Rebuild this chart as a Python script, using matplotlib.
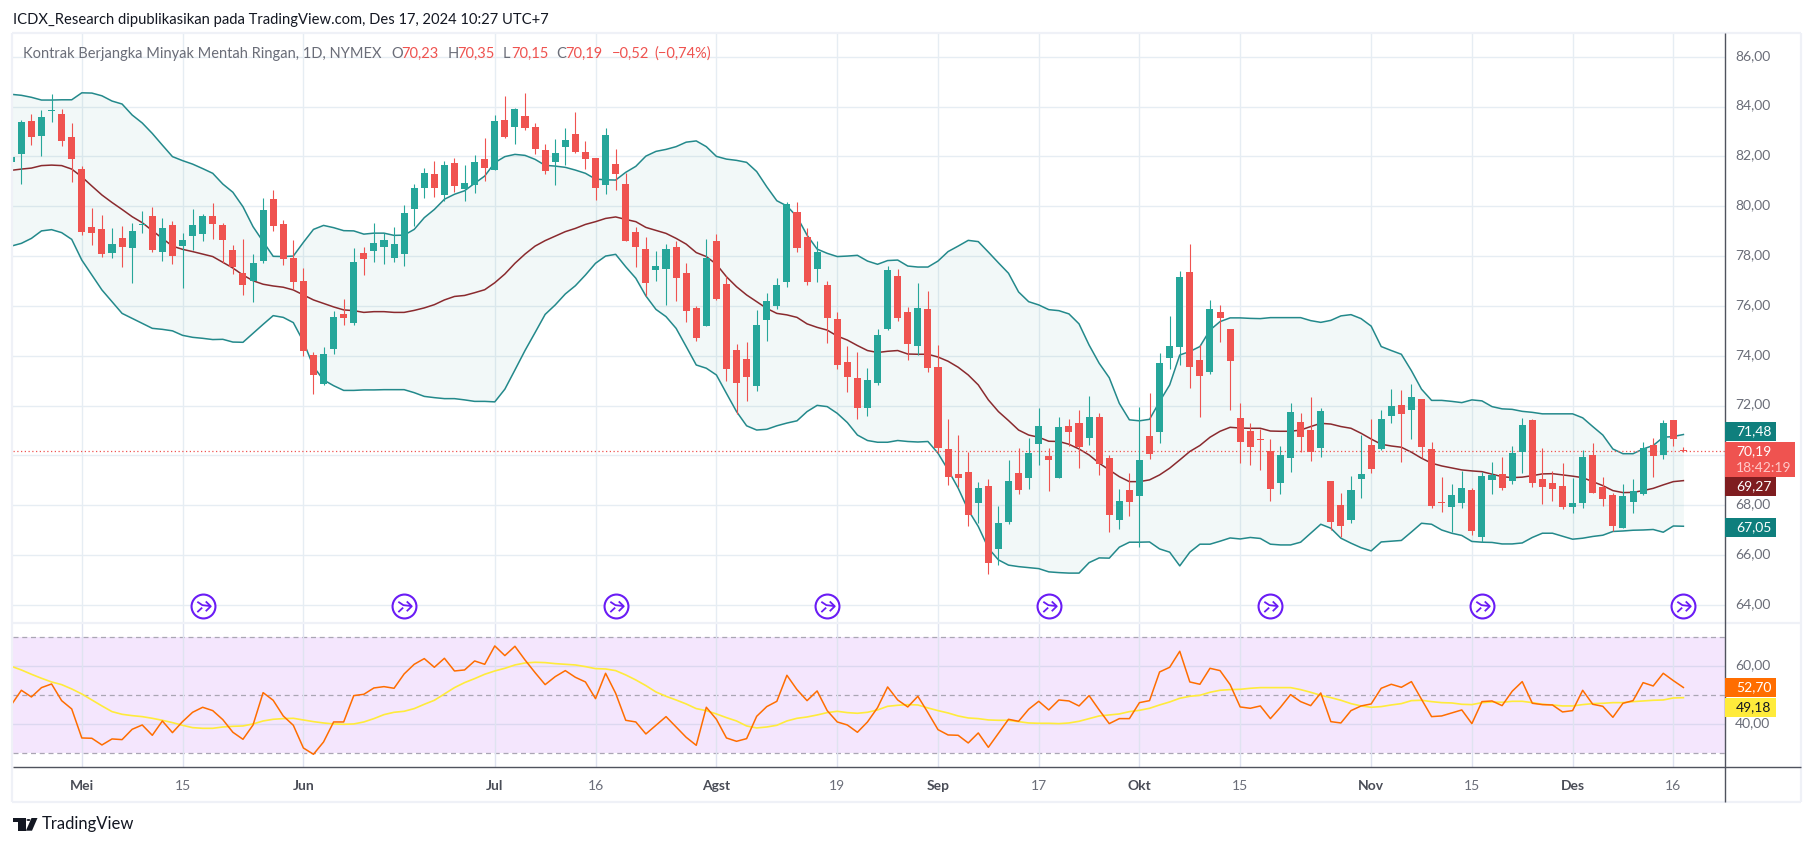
import numpy as np
import matplotlib
matplotlib.use('Agg')
from matplotlib import pyplot as plt
from matplotlib.path import Path
from matplotlib.patches import Rectangle, Polygon
from matplotlib.transforms import ScaledTranslation

W, H = 1814, 846

# Harga harian (batang pertama terpotong di tepi kiri)
opens = [81.79, 82.10, 83.42, 82.83, 83.82, 83.70, 82.78, 81.49, 79.17, 79.09, 78.12, 78.72, 78.34, 79.25, 79.61, 78.18, 79.25, 78.42, 78.82, 78.88,
         79.61, 79.25, 78.24, 77.31, 77.00, 77.80, 80.29, 79.29, 77.91, 77.00, 74.03, 72.87, 74.27, 75.68, 75.32, 78.12, 78.22, 78.38, 77.93, 78.08,
         79.89, 80.73, 81.29, 80.45, 81.73, 80.69, 80.85, 81.89, 81.45, 83.46, 83.18, 83.62, 83.18, 82.25, 81.77, 82.37, 82.90, 82.17, 81.93, 80.85,
         81.69, 80.89, 78.97, 78.28, 77.44, 77.48, 78.36, 77.32, 75.92, 75.20, 78.60, 76.88, 74.23, 73.87, 72.79, 75.44, 76.00, 76.96, 79.77, 78.76,
         77.48, 76.84, 75.48, 73.75, 73.11, 71.91, 72.91, 75.07, 77.20, 75.76, 74.39, 75.88, 73.55, 70.26, 69.26, 69.34, 68.10, 68.78, 66.25, 67.33,
         69.30, 69.10, 70.46, 69.98, 69.10, 71.18, 71.30, 70.70, 71.55, 69.90, 67.41, 68.62, 68.38, 70.78, 70.94, 73.91, 74.35, 77.36, 73.83, 73.35,
         75.76, 75.07, 71.51, 70.98, 70.66, 70.18, 68.90, 69.90, 71.34, 71.02, 70.30, 68.98, 68.02, 67.41, 69.06, 70.42, 70.26, 71.59, 72.03, 71.83,
         72.25, 70.26, 68.14, 67.94, 68.10, 68.62, 66.73, 69.02, 69.26, 68.98, 70.14, 71.43, 69.06, 68.90, 68.78, 67.94, 68.10, 70.02, 68.74, 68.42,
         67.09, 68.14, 68.46, 70.42, 70.02, 71.43, 70.23]
closes = [81.96, 83.37, 82.79, 83.58, 83.85, 82.63, 81.91, 78.98, 78.94, 78.08, 78.48, 78.38, 79.01, 79.27, 78.24, 79.11, 78.02, 78.64, 79.25, 79.61,
          79.30, 78.64, 77.57, 76.84, 77.71, 79.85, 79.21, 77.88, 76.97, 74.19, 73.23, 74.07, 75.56, 75.52, 77.76, 77.88, 78.52, 78.64, 78.48, 79.71,
          80.73, 81.33, 80.73, 81.65, 80.81, 80.93, 81.77, 81.53, 83.42, 82.78, 83.90, 83.14, 82.29, 81.41, 82.13, 82.66, 82.17, 81.89, 80.73, 82.86,
          81.29, 78.60, 78.36, 76.92, 77.60, 78.28, 77.12, 75.80, 74.71, 77.93, 76.26, 73.47, 72.91, 73.15, 75.23, 76.20, 76.84, 80.09, 78.32, 76.96,
          78.16, 75.52, 73.63, 73.15, 71.91, 73.03, 74.83, 77.44, 75.52, 74.47, 75.92, 73.51, 70.30, 69.14, 69.10, 67.61, 68.70, 65.69, 67.29, 68.98,
          68.62, 70.10, 71.18, 69.82, 71.14, 70.94, 70.34, 71.55, 69.67, 67.61, 68.18, 68.14, 69.82, 70.06, 73.71, 74.39, 77.16, 73.55, 73.19, 75.88,
          75.52, 73.79, 70.54, 70.34, 70.62, 68.66, 70.02, 71.75, 70.74, 70.14, 71.79, 67.33, 67.17, 68.62, 69.26, 69.46, 71.46, 71.99, 71.67, 72.35,
          70.34, 67.98, 68.11, 68.42, 68.70, 66.97, 69.18, 69.22, 68.70, 70.10, 71.22, 68.90, 68.74, 68.66, 67.94, 68.10, 69.94, 68.50, 68.26, 67.17,
          68.38, 68.58, 70.30, 69.98, 71.30, 70.66, 70.19]
highs = [81.99, 83.45, 83.72, 83.86, 84.50, 83.92, 83.32, 81.61, 79.91, 79.65, 79.11, 79.21, 79.31, 79.81, 79.95, 79.51, 79.41, 78.91, 79.87, 79.69,
         80.12, 79.31, 78.44, 78.68, 78.07, 80.32, 80.65, 79.45, 78.64, 77.51, 74.15, 74.35, 75.80, 76.28, 78.32, 78.35, 79.31, 78.91, 79.15, 80.05,
         80.89, 81.53, 81.81, 81.80, 81.93, 81.65, 82.05, 82.73, 83.66, 84.42, 83.94, 84.54, 83.34, 82.49, 82.70, 83.14, 83.78, 82.62, 81.93, 83.14,
         82.29, 81.32, 79.17, 78.76, 78.20, 78.48, 78.59, 77.72, 76.00, 78.68, 78.88, 77.20, 74.47, 74.55, 75.84, 76.51, 77.11, 80.17, 80.17, 79.13,
         78.60, 77.00, 75.76, 74.39, 74.15, 73.51, 75.07, 77.60, 77.48, 75.96, 76.92, 76.60, 74.43, 71.46, 70.82, 70.14, 68.94, 69.06, 67.97, 69.82,
         70.30, 70.70, 71.91, 70.30, 71.55, 71.46, 71.83, 72.39, 71.71, 70.02, 68.66, 69.30, 71.95, 72.51, 74.11, 75.60, 77.40, 78.48, 74.43, 76.24,
         76.04, 75.07, 72.11, 71.30, 71.06, 70.66, 70.38, 72.11, 71.71, 72.35, 71.91, 68.98, 68.50, 69.18, 70.82, 71.46, 71.83, 72.67, 72.63, 72.87,
         72.27, 70.54, 69.14, 68.86, 69.38, 68.70, 69.34, 69.74, 69.94, 70.38, 71.51, 71.46, 70.30, 69.38, 69.70, 69.10, 70.22, 70.50, 69.14, 68.50,
         68.86, 69.06, 70.54, 70.70, 71.43, 71.43, 70.35]
lows = [81.76, 80.89, 82.45, 82.03, 83.38, 82.43, 80.98, 78.84, 78.44, 77.95, 77.93, 77.57, 76.93, 78.94, 78.18, 77.82, 77.68, 76.73, 78.24, 78.62,
        78.68, 77.71, 77.28, 76.44, 76.17, 77.73, 79.01, 77.64, 76.68, 74.00, 72.47, 72.83, 74.07, 75.23, 75.23, 77.24, 77.78, 77.68, 77.78, 77.60,
        79.21, 80.33, 80.36, 80.22, 80.56, 80.21, 80.54, 81.01, 81.44, 82.74, 82.49, 83.06, 82.09, 81.28, 80.85, 81.65, 82.13, 81.48, 80.25, 80.49,
        80.65, 78.60, 77.57, 76.39, 77.00, 76.04, 76.20, 75.36, 74.59, 75.20, 76.24, 72.99, 71.67, 72.19, 72.59, 74.59, 75.86, 76.75, 78.16, 76.84,
        76.96, 74.51, 73.47, 72.55, 71.46, 71.59, 72.83, 75.03, 75.40, 73.83, 74.03, 73.35, 70.09, 68.82, 68.75, 67.17, 67.29, 65.25, 65.61, 67.25,
        68.46, 68.66, 69.62, 68.58, 69.10, 70.38, 69.50, 70.42, 69.22, 66.93, 67.05, 67.57, 66.33, 69.86, 70.50, 73.47, 73.63, 72.71, 71.55, 73.27,
        74.55, 71.83, 69.70, 69.62, 69.42, 68.18, 68.46, 69.34, 70.14, 69.78, 69.94, 67.01, 66.73, 67.29, 68.30, 69.30, 70.22, 71.30, 69.74, 70.66,
        69.90, 67.90, 67.74, 66.93, 67.90, 66.81, 66.53, 68.46, 68.62, 68.86, 69.30, 68.74, 68.06, 68.18, 67.86, 67.70, 67.90, 68.50, 67.98, 66.97,
        67.09, 67.70, 68.42, 69.14, 69.86, 70.38, 70.15]

# Bollinger Bands
bb_upper = [84.49, 84.45, 84.37, 84.26, 84.26, 84.27, 84.27, 84.55, 84.54, 84.43, 84.22, 84.10, 83.66, 83.34, 82.92, 82.45, 81.99, 81.83, 81.69, 81.51,
            81.32, 80.89, 80.56, 79.98, 79.18, 78.58, 77.99, 77.98, 78.00, 78.55, 79.07, 79.23, 79.14, 79.02, 79.01, 78.88, 78.92, 78.92, 78.83, 78.84,
            79.07, 79.54, 79.87, 80.28, 80.48, 80.62, 80.92, 81.21, 81.75, 81.99, 82.08, 82.04, 81.88, 81.64, 81.61, 81.56, 81.45, 81.32, 81.09, 81.06,
            81.05, 81.36, 81.60, 82.01, 82.20, 82.28, 82.39, 82.57, 82.62, 82.39, 82.00, 81.89, 81.84, 81.76, 81.39, 80.78, 80.22, 80.01, 79.58, 78.84,
            78.28, 78.11, 77.98, 78.00, 78.03, 77.80, 77.67, 77.82, 77.84, 77.60, 77.56, 77.56, 77.80, 78.18, 78.40, 78.63, 78.58, 78.16, 77.73, 77.31,
            76.56, 76.17, 76.04, 75.85, 75.81, 75.68, 75.28, 74.43, 73.70, 73.12, 72.09, 71.43, 71.39, 71.45, 72.16, 72.83, 74.03, 74.17, 74.37, 75.03,
            75.37, 75.52, 75.52, 75.50, 75.49, 75.53, 75.53, 75.53, 75.53, 75.41, 75.34, 75.42, 75.60, 75.65, 75.49, 75.19, 74.37, 74.21, 74.06, 73.40,
            72.66, 72.21, 72.21, 72.17, 72.12, 72.23, 72.19, 71.96, 71.87, 71.85, 71.77, 71.73, 71.67, 71.67, 71.67, 71.67, 71.51, 71.16, 70.82, 70.26,
            70.07, 70.07, 70.26, 70.40, 70.73, 70.76, 70.84]
bb_lower = [78.40, 78.51, 78.71, 79.01, 79.06, 78.94, 78.67, 77.84, 77.24, 76.64, 76.17, 75.70, 75.50, 75.30, 75.10, 75.06, 75.00, 74.82, 74.74, 74.70,
            74.65, 74.66, 74.55, 74.54, 74.90, 75.26, 75.61, 75.54, 75.33, 74.57, 73.56, 73.03, 72.80, 72.61, 72.61, 72.63, 72.63, 72.64, 72.64, 72.64,
            72.52, 72.37, 72.32, 72.28, 72.28, 72.23, 72.17, 72.17, 72.15, 72.66, 73.43, 74.21, 74.93, 75.66, 76.04, 76.48, 76.81, 77.24, 77.71, 78.00,
            78.07, 77.57, 77.11, 76.40, 75.86, 75.57, 75.10, 74.37, 73.63, 73.50, 73.23, 72.49, 71.76, 71.19, 71.02, 71.05, 71.19, 71.30, 71.39, 71.76,
            72.01, 71.96, 71.69, 71.32, 70.82, 70.60, 70.53, 70.53, 70.60, 70.56, 70.54, 70.56, 70.09, 69.42, 68.69, 67.81, 67.15, 66.28, 65.81, 65.60,
            65.54, 65.50, 65.46, 65.33, 65.30, 65.28, 65.28, 65.70, 65.89, 65.88, 66.32, 66.52, 66.52, 66.53, 66.25, 66.12, 65.57, 66.12, 66.44, 66.44,
            66.56, 66.69, 66.65, 66.71, 66.67, 66.44, 66.41, 66.41, 66.52, 66.88, 67.24, 67.08, 66.68, 66.48, 66.30, 66.17, 66.53, 66.56, 66.59, 66.93,
            67.28, 67.24, 67.01, 66.88, 66.79, 66.55, 66.52, 66.51, 66.45, 66.45, 66.49, 66.71, 66.88, 66.88, 66.76, 66.64, 66.68, 66.75, 66.80, 66.95,
            66.97, 67.00, 67.01, 67.03, 66.92, 67.17, 67.16]
bb_basis = [81.44, 81.49, 81.53, 81.63, 81.65, 81.63, 81.49, 81.18, 80.81, 80.45, 80.15, 79.87, 79.58, 79.34, 79.02, 78.71, 78.40, 78.27, 78.18, 78.08,
            77.98, 77.75, 77.52, 77.24, 77.01, 76.87, 76.80, 76.75, 76.64, 76.44, 76.24, 76.10, 75.96, 75.84, 75.81, 75.74, 75.77, 75.77, 75.74, 75.74,
            75.82, 75.92, 76.05, 76.24, 76.38, 76.42, 76.53, 76.65, 76.93, 77.28, 77.71, 78.08, 78.40, 78.62, 78.80, 78.98, 79.11, 79.27, 79.38, 79.51,
            79.57, 79.47, 79.38, 79.15, 79.03, 78.91, 78.71, 78.48, 78.14, 77.98, 77.67, 77.17, 76.77, 76.44, 76.17, 75.90, 75.70, 75.64, 75.54, 75.28,
            75.14, 75.03, 74.79, 74.63, 74.41, 74.21, 74.13, 74.18, 74.21, 74.07, 74.06, 74.06, 73.95, 73.78, 73.54, 73.23, 72.83, 72.23, 71.76, 71.40,
            71.02, 70.82, 70.73, 70.57, 70.56, 70.45, 70.26, 70.02, 69.69, 69.42, 69.15, 68.95, 68.95, 69.02, 69.22, 69.49, 69.82, 70.16, 70.40, 70.73,
            70.97, 71.13, 71.10, 71.09, 71.09, 70.98, 70.97, 70.97, 71.02, 71.16, 71.29, 71.26, 71.16, 71.09, 70.89, 70.66, 70.45, 70.38, 70.33, 70.13,
            69.89, 69.69, 69.58, 69.50, 69.42, 69.38, 69.35, 69.25, 69.15, 69.11, 69.13, 69.19, 69.26, 69.27, 69.22, 69.17, 69.11, 68.95, 68.79, 68.59,
            68.51, 68.52, 68.59, 68.68, 68.82, 68.95, 68.99]

# RSI dan rata-ratanya
rsi = [46.67, 51.73, 49.43, 52.65, 53.91, 48.16, 45.29, 35.29, 35.18, 32.88, 34.95, 34.72, 38.28, 39.77, 36.21, 41.15, 37.13, 40.92, 44.14, 45.87,
       44.72, 41.61, 37.25, 34.83, 39.77, 50.92, 48.28, 42.88, 39.66, 31.84, 29.66, 33.91, 40.81, 40.81, 49.89, 50.35, 52.53, 52.99, 52.42, 57.36,
       60.69, 62.65, 59.66, 62.76, 58.39, 58.74, 61.84, 60.69, 67.01, 63.68, 66.90, 62.19, 57.82, 53.68, 56.44, 58.51, 56.21, 54.60, 48.85, 57.59,
       50.69, 41.38, 40.81, 36.67, 39.66, 42.65, 39.08, 35.52, 32.76, 45.87, 41.73, 35.29, 34.14, 35.06, 42.76, 46.10, 47.93, 56.90, 51.96, 48.16,
       51.50, 44.72, 40.81, 39.77, 37.25, 40.81, 45.75, 52.88, 48.39, 45.98, 49.66, 44.03, 38.16, 36.33, 36.21, 33.57, 37.02, 32.07, 36.90, 41.73,
       41.04, 45.18, 47.93, 44.95, 48.39, 48.05, 46.33, 49.89, 44.95, 40.23, 41.96, 41.96, 47.47, 48.16, 58.05, 59.66, 65.18, 54.60, 53.80, 59.31,
       58.51, 53.68, 45.98, 45.52, 46.33, 41.96, 45.87, 50.23, 47.82, 46.44, 50.81, 40.92, 40.46, 44.72, 46.33, 47.02, 52.42, 53.80, 52.76, 54.72,
       48.62, 42.65, 42.88, 43.91, 44.95, 40.23, 47.82, 48.05, 46.44, 51.38, 54.72, 47.25, 46.79, 46.67, 44.26, 44.72, 51.73, 46.90, 46.21, 42.42,
       47.25, 48.16, 54.37, 53.22, 57.59, 55.06, 52.70]
rsi_ma = [60.00, 58.74, 57.25, 55.87, 54.60, 53.68, 52.19, 50.46, 48.39, 46.33, 44.37, 43.45, 42.99, 42.65, 42.07, 41.38, 40.58, 39.66, 38.85, 38.62,
          38.62, 39.08, 39.31, 39.43, 40.12, 41.15, 41.73, 41.96, 42.07, 41.50, 40.92, 40.46, 40.12, 40.00, 40.12, 40.81, 41.96, 43.34, 44.14, 44.49,
          45.41, 46.90, 48.28, 50.46, 52.65, 54.37, 55.75, 57.25, 58.39, 59.31, 60.46, 61.15, 61.38, 61.27, 60.92, 60.69, 60.46, 59.89, 59.20, 59.08,
          58.51, 57.02, 55.29, 53.34, 51.15, 49.66, 48.39, 47.02, 45.41, 44.72, 43.57, 42.30, 41.15, 39.43, 38.74, 39.08, 39.66, 41.15, 42.07, 42.53,
          43.22, 44.03, 44.49, 44.03, 43.80, 44.14, 44.95, 46.21, 46.56, 46.79, 46.67, 45.64, 44.72, 43.91, 42.88, 42.19, 41.96, 41.50, 41.38, 41.38,
          40.92, 40.46, 40.35, 40.35, 40.23, 40.46, 41.04, 41.96, 42.88, 43.22, 43.57, 44.37, 44.83, 45.52, 46.67, 47.70, 48.97, 49.66, 50.00, 51.04,
          51.73, 51.96, 52.07, 52.42, 52.65, 52.65, 52.65, 52.65, 51.96, 51.04, 50.00, 49.20, 48.28, 47.13, 46.33, 45.87, 46.10, 46.67, 47.13, 48.16,
          48.28, 47.82, 47.47, 47.36, 46.90, 46.79, 47.47, 47.70, 47.59, 47.93, 47.93, 47.47, 46.90, 46.67, 46.33, 46.33, 46.79, 47.13, 47.25, 47.47,
          47.47, 47.82, 48.05, 48.28, 48.39, 49.08, 49.18]

# Sumbu waktu dan harga
tick_idx = [6, 16, 28, 47, 57, 69, 81, 91, 101, 111, 121, 134, 144, 154, 164]
tick_labels = ['Mei', '15', 'Jun', 'Jul', '16', 'Agst', '19', 'Sep', '17', 'Okt', '15', 'Nov', '15', 'Des', '16']
month_labels = ['Mei', 'Jun', 'Jul', 'Agst', 'Sep', 'Okt', 'Nov', 'Des']
price_ticks = [64, 66, 68, 70, 72, 74, 76, 78, 80, 82, 84, 86]
rsi_ticks = [40, 60]
event_idx = [18, 38, 59, 80, 102, 124, 145, 165]
last_price = 70.19

UP = '#26a69a'
DOWN = '#ef5350'
GRID = '#e6edf3'
BAND = '#23898b'
BASIS = '#8a2a2e'
TEXT = '#6a6d78'
FONT = 'Lato'

plt.rcParams['font.family'] = FONT


def fx(px):
    return px / W


def fy(py):
    return 1 - py / H


def comma(v):
    return f'{v:.2f}'.replace('.', ',')


fig = plt.figure(figsize=(W / 100, H / 100), dpi=100, facecolor='white')
ax = fig.add_axes([fx(13), fy(622.7), fx(1711.5), (622.7 - 33) / H])
ax2 = fig.add_axes([fx(13), fy(767), fx(1711.5), (767 - 622.7) / H])

idx = np.arange(len(opens)) - 1
opens_a, closes_a = np.array(opens), np.array(closes)
colors = [UP if c >= o else DOWN for o, c in zip(opens, closes)]

# Panel harga (label 70,00 tertutup label harga terakhir, jadi dikosongkan)
ax.set_xlim(-0.829, 169.08)
ax.set_ylim(63.29, 86.95)
ax.set_xticks(tick_idx)
ax.set_yticks(price_ticks, ['' if p == 70 else comma(p) for p in price_ticks])
ax.grid(True, color=GRID, lw=1.0, zorder=0)
ax.set_axisbelow(True)
ax.yaxis.tick_right()
ax.tick_params(axis='x', length=0, labelbottom=False)
ax.tick_params(axis='y', length=0, pad=7.5, labelsize=10, labelcolor=TEXT)
for s in ax.spines.values():
    s.set_visible(False)

ax.fill_between(idx, bb_lower, bb_upper, color='#00897b', alpha=0.05, lw=0, zorder=1)
ax.plot(idx, bb_upper, color=BAND, lw=1.1, zorder=2)
ax.plot(idx, bb_lower, color=BAND, lw=1.1, zorder=2)
ax.plot(idx, bb_basis, color=BASIS, lw=1.1, zorder=2)
ax.axhline(last_price, color=DOWN, lw=0.9, ls=(0, (1, 2)), zorder=2)

ax.vlines(idx, lows, highs, color=colors, lw=0.8, zorder=3)
ax.bar(idx, np.maximum(np.abs(closes_a - opens_a), 0.04), bottom=np.minimum(opens_a, closes_a),
       width=0.7, color=colors, lw=0, zorder=4)

# Penanda kontrak: lingkaran ungu dengan panah
arrow = Path([(-0.55, 0.42), (-0.1, 0.12), (0.6, 0.04),
              (0.2, 0.45), (0.65, 0.02), (0.2, -0.42),
              (-0.55, -0.5), (-0.12, -0.1)],
             [Path.MOVETO, Path.LINETO, Path.LINETO,
              Path.MOVETO, Path.LINETO, Path.LINETO,
              Path.MOVETO, Path.LINETO])
ev_y = [63.98] * len(event_idx)
ax.plot(event_idx, ev_y, ls='none', marker='o', ms=17.2, mfc='white', mec='#6a1cf5', mew=1.5, zorder=5, clip_on=False)
ax.plot(event_idx, ev_y, ls='none', marker=arrow, ms=10.5, mfc='none', mec='#6a1cf5', mew=1.3, zorder=6, clip_on=False)

# Panel RSI
ax2.set_xlim(-0.829, 169.08)
ax2.set_ylim(25.28, 75.03)
ax2.axhspan(30, 70, color='#f4e6fd', lw=0, zorder=0)
ax2.set_xticks(tick_idx, tick_labels)
ax2.set_yticks(rsi_ticks, [comma(v) for v in rsi_ticks])
ax2.grid(True, axis='x', color='#dfe3f0', lw=1.0, zorder=1)
ax2.set_axisbelow(False)
ax2.yaxis.tick_right()
ax2.tick_params(axis='x', length=0, pad=9, labelsize=10, labelcolor=TEXT)
ax2.tick_params(axis='y', length=0, pad=7.5, labelsize=10, labelcolor=TEXT)
for lab in ax2.get_xticklabels():
    if lab.get_text() in month_labels:
        lab.set_fontweight('bold')
        lab.set_color('#4a4d57')
for s in ax2.spines.values():
    s.set_visible(False)
for v in rsi_ticks:
    ax2.axhline(v, color='#dcd8f0', lw=1.0, zorder=1)
for v in [30, 50, 70]:
    ax2.axhline(v, color='#aaa6b4', lw=0.9, ls=(0, (4, 3)), zorder=1)
ax2.plot(idx, rsi_ma, color='#ffeb3b', lw=1.2, zorder=3)
ax2.plot(idx, rsi, color='#ff6d00', lw=1.1, zorder=4)

# Label harga sedikit di atas garis kisi
up_shift = ScaledTranslation(0, 2 / 100, fig.dpi_scale_trans)
for lab in ax.get_yticklabels() + ax2.get_yticklabels():
    lab.set_transform(lab.get_transform() + up_shift)


def frame_line(x0, y0, x1, y1, color, lw):
    fig.add_artist(plt.Line2D([fx(x0), fx(x1)], [fy(y0), fy(y1)], color=color, lw=lw, solid_capstyle='butt'))


# Bingkai dan pemisah panel
for seg in [(12, 33, 1801, 33), (12, 33, 12, 802), (1801, 33, 1801, 802), (12, 802, 1801, 802), (13, 622.7, 1801, 622.7)]:
    frame_line(*seg, '#eff1f7', 1.6)
frame_line(1724.5, 33, 1724.5, 802, '#50535e', 1.0)
frame_line(13, 767, 1801, 767, '#50535e', 1.0)


def tag(top, bottom, right, color):
    fig.add_artist(Rectangle((fx(1725), fy(bottom)), fx(right - 1725), (bottom - top) / H,
                             transform=fig.transFigure, facecolor=color, edgecolor='none', zorder=2))


def tag_text(py, s, color='white'):
    fig.text(fx(1736), fy(py), s, color=color, fontsize=10, va='center', ha='left')


# Label nilai terakhir
tag(422, 441, 1776, '#0f7f7d')
tag_text(431.5, '71,48')
tag(442, 477, 1795, '#ef5350')
tag_text(451, '70,19')
tag_text(468, '18:42:19', '#ffc9c9')
tag(477, 496, 1776, '#7f1d20')
tag_text(486.5, '69,27')
tag(518, 537, 1776, '#0f7f7d')
tag_text(527.5, '67,05')
tag(678, 697, 1776, '#ff6d00')
tag_text(687.5, '52,70')
tag(698, 717, 1776, '#ffeb3b')
tag_text(707.5, '49,18', '#131722')

# Judul dan legenda
fig.text(fx(13), fy(20), 'ICDX_Research dipublikasikan pada TradingView.com, Des 17, 2024 10:27 UTC+7',
         color='#131722', fontsize=10.6, va='center')
LEG_Y = 54
fig.text(fx(23), fy(LEG_Y), 'Kontrak Berjangka Minyak Mentah Ringan, 1D, NYMEX', color=TEXT, fontsize=10.5, va='center')
for x, s, c in [(391.7, 'O', TEXT), (401, '70,23', DOWN), (447.7, 'H', TEXT), (457, '70,35', DOWN),
                (503, 'L', TEXT), (511.7, '70,15', DOWN), (556.7, 'C', TEXT), (565.7, '70,19', DOWN),
                (611.7, '\u22120,52', DOWN), (654, '(\u22120,74%)', DOWN)]:
    fig.text(fx(x), fy(LEG_Y), s, color=c, fontsize=10.5, va='center')

# Logo TradingView
logo = '#131722'
for pts in [[(13.3, 818), (25.7, 818), (25.7, 830.7), (18.3, 830.7), (18.3, 822), (13.3, 822)],
            [(31.5, 818), (37.5, 818), (32, 830.7), (25.9, 830.7)]]:
    fig.add_artist(Polygon([(fx(a), fy(b)) for a, b in pts], closed=True, transform=fig.transFigure,
                           facecolor=logo, edgecolor='none'))
fig.add_artist(plt.Circle((fx(28.5), fy(820)), 2.0 / W, transform=fig.transFigure, facecolor=logo, edgecolor='none'))
fig.text(fx(42), fy(824), 'TradingView', color=logo, fontsize=12, va='center')

fig.savefig('out.png', dpi=100)
